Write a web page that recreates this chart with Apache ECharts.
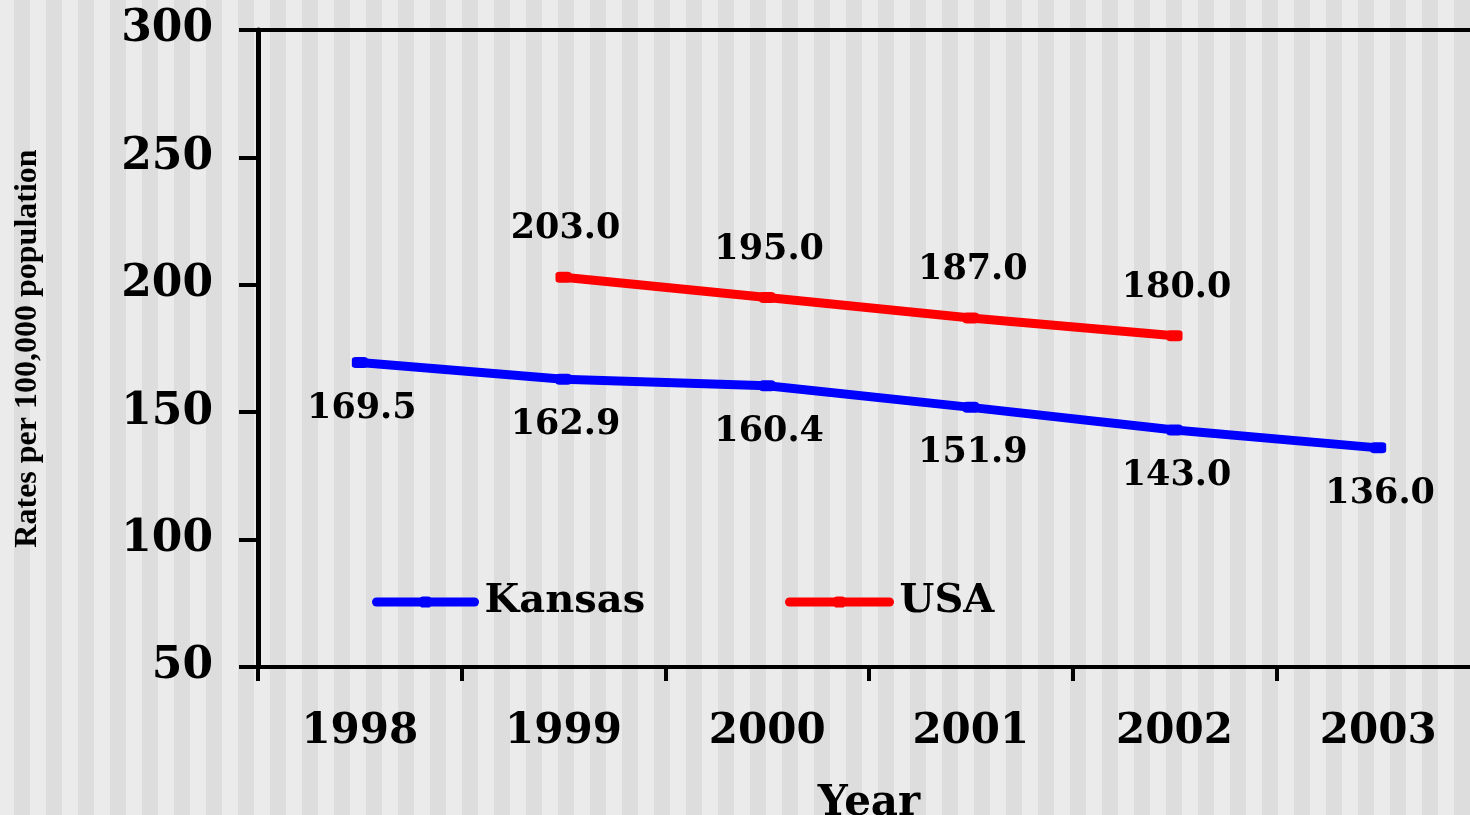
<!DOCTYPE html>
<html>
<head>
<meta charset="utf-8">
<script src="https://cdn.jsdelivr.net/npm/echarts@6/dist/echarts.min.js"></script>
<style>
  html, body { margin: 0; padding: 0; }
  body {
    width: 1470px; height: 815px; overflow: hidden;
    background-color: #ebebeb;
    background-image: linear-gradient(to right, #ebebeb 50%, #dddddd 50%);
    background-size: 32px 100%;
    background-position: -2px 0;
    background-repeat: repeat-x;
  }
  #chart { width: 1470px; height: 815px; }
</style>
</head>
<body>
<div id="chart"></div>
<script>
const years = ['1998', '1999', '2000', '2001', '2002', '2003'];
const kansas = [169.5, 162.9, 160.4, 151.9, 143.0, 136.0];
const usa = [null, 203.0, 195.0, 187.0, 180.0, null];
const yMin = 50, yMax = 300, yStep = 50;

const serifWide = 'DejaVu Serif';
const chart = echarts.init(document.getElementById('chart'));
function labelFmt(p) { return p.value == null ? '' : Number(p.value).toFixed(1); }

const legendText = { fontFamily: serifWide, fontWeight: 'bold', fontSize: 40, color: '#000', padding: [0, 0, 0, 5] };
chart.setOption({
  backgroundColor: 'transparent',
  animation: false,
  grid: { left: 258, right: -10, top: 30, bottom: 148, containLabel: false, outerBoundsMode: 'none',
    show: true, borderColor: '#000', borderWidth: 4, backgroundColor: 'transparent' },
  legend: [
    { data: ['Kansas'], left: 372, top: 582, padding: 0, itemWidth: 98, itemHeight: 14,
      lineStyle: { width: 9, cap: 'round' }, textStyle: legendText },
    { data: ['USA'], left: 785, top: 582, padding: 0, itemWidth: 100, itemHeight: 14,
      lineStyle: { width: 9, cap: 'round' }, textStyle: legendText }
  ],
  xAxis: {
    type: 'category', data: years, boundaryGap: true,
    name: 'Year', nameLocation: 'middle', nameGap: 116,
    nameTextStyle: { fontFamily: serifWide, fontWeight: 'bold', fontSize: 42, color: '#000' },
    axisLine: { lineStyle: { color: '#000', width: 4 } },
    axisTick: { show: true, length: 14, lineStyle: { color: '#000', width: 4 } },
    axisLabel: { margin: 44, fontFamily: serifWide, fontWeight: 'bold', fontSize: 42, color: '#000' },
    splitLine: { show: false }
  },
  yAxis: {
    type: 'value', min: yMin, max: yMax, interval: yStep,
    name: 'Rates per 100,000 population', nameLocation: 'middle', nameGap: 214,
    nameTextStyle: { fontFamily: 'Liberation Serif', fontWeight: 'bold', fontSize: 32, color: '#000' },
    axisLine: { show: true, lineStyle: { color: '#000', width: 5 } },
    axisTick: { show: true, length: 19, lineStyle: { color: '#000', width: 4 } },
    axisLabel: { margin: 45, fontFamily: serifWide, fontWeight: 'bold', fontSize: 44, color: '#000' },
    splitLine: { show: false }
  },
  series: [
    { name: 'Kansas', type: 'line', data: kansas,
      symbol: 'roundRect', symbolSize: [16, 11],
      lineStyle: { color: '#0000ff', width: 9 }, itemStyle: { color: '#0000ff' },
      label: { show: true, position: 'inside', offset: [2, 46], formatter: labelFmt,
        fontFamily: serifWide, fontWeight: 'bold', fontSize: 35, color: '#000' } },
    { name: 'USA', type: 'line', data: usa,
      symbol: 'roundRect', symbolSize: [16, 11],
      lineStyle: { color: '#ff0000', width: 9 }, itemStyle: { color: '#ff0000' },
      label: { show: true, position: 'inside', offset: [2, -48], formatter: labelFmt,
        fontFamily: serifWide, fontWeight: 'bold', fontSize: 35, color: '#000' } }
  ]
});
</script>
</body>
</html>
